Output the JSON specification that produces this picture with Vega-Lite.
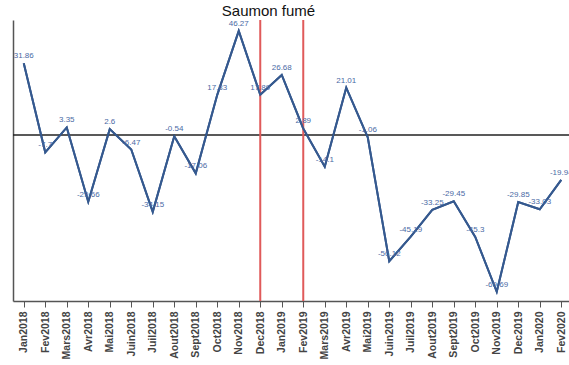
{
  "$schema": "https://vega.github.io/schema/vega-lite/v6.json",
  "width": 559,
  "height": 281,
  "autosize": {"type": "none"},
  "padding": {"left": 13, "top": 20, "right": 0, "bottom": 64},
  "background": "white",
  "title": {"text": "Saumon fumé", "font": "Liberation Sans", "fontSize": 15, "fontWeight": "normal", "color": "#111", "anchor": "middle", "dx": -24, "dy": 15, "offset": 3, "baseline": "alphabetic"},
  "config": {"view": {"stroke": null}, "font": "Liberation Sans", "locale": {"number": {"decimal": ".", "thousands": ",", "grouping": [3], "currency": ["", ""], "minus": "-"}}},
  "datasets": {
    "series": [
      {"mois": "Jan2018", "valeur": 31.86},
      {"mois": "Fev2018", "valeur": -7.7},
      {"mois": "Mars2018", "valeur": 3.35},
      {"mois": "Avr2018", "valeur": -29.66},
      {"mois": "Mai2018", "valeur": 2.6},
      {"mois": "Juin2018", "valeur": -6.47},
      {"mois": "Juil2018", "valeur": -34.15},
      {"mois": "Aout2018", "valeur": -0.54},
      {"mois": "Sept2018", "valeur": -17.06},
      {"mois": "Oct2018", "valeur": 17.83},
      {"mois": "Nov2018", "valeur": 46.27},
      {"mois": "Dec2018", "valeur": 17.89},
      {"mois": "Jan2019", "valeur": 26.68},
      {"mois": "Fev2019", "valeur": 2.89},
      {"mois": "Mars2019", "valeur": -14.1},
      {"mois": "Avr2019", "valeur": 21.01},
      {"mois": "Mai2019", "valeur": -1.06},
      {"mois": "Juin2019", "valeur": -56.12},
      {"mois": "Juil2019", "valeur": -45.19},
      {"mois": "Aout2019", "valeur": -33.25},
      {"mois": "Sept2019", "valeur": -29.45},
      {"mois": "Oct2019", "valeur": -45.3},
      {"mois": "Nov2019", "valeur": -69.69},
      {"mois": "Dec2019", "valeur": -29.85},
      {"mois": "Jan2020", "valeur": -33.03},
      {"mois": "Fev2020", "valeur": -19.94}
    ],
    "marqueurs": [
      {"mois": "Dec2018"},
      {"mois": "Fev2019"}
    ],
    "zero": [
      {"valeur": 0}
    ]
  },
  "layer": [
    {
      "data": {"name": "series"},
      "mark": {"type": "line", "color": "#35598f", "strokeWidth": 2},
      "encoding": {
        "x": {"field": "mois", "type": "nominal", "sort": null,
              "scale": {"type": "point", "padding": 0.5, "domain": ["Jan2018","Fev2018","Mars2018","Avr2018","Mai2018","Juin2018","Juil2018","Aout2018","Sept2018","Oct2018","Nov2018","Dec2018","Jan2019","Fev2019","Mars2019","Avr2019","Mai2019","Juin2019","Juil2019","Aout2019","Sept2019","Oct2019","Nov2019","Dec2019","Jan2020","Fev2020"]},
              "axis": {"title": null, "labelAngle": -90, "labelFontSize": 10.5, "labelFontWeight": "bold", "labelColor": "#444", "domainColor": "#555", "domainWidth": 1.5, "tickColor": "#555", "tickSize": 6, "labelPadding": 4}},
        "y": {"field": "valeur", "type": "quantitative", "scale": {"domain": [-73.8, 51.1], "nice": false, "zero": false},
              "axis": {"title": null, "labels": false, "ticks": false, "grid": false, "domainColor": "#555", "domainWidth": 1.5}}
      }
    },
    {
      "data": {"name": "zero"},
      "mark": {"type": "rule", "color": "#222", "strokeWidth": 1.5},
      "encoding": {
        "y": {"field": "valeur", "type": "quantitative"}
      }
    },
    {
      "data": {"name": "marqueurs"},
      "mark": {"type": "rule", "color": "#e05a5a", "strokeWidth": 2},
      "encoding": {
        "x": {"field": "mois", "type": "nominal", "sort": null}
      }
    },
    {
      "data": {"name": "series"},
      "mark": {"type": "line", "color": "#35598f", "strokeWidth": 2},
      "encoding": {
        "x": {"field": "mois", "type": "nominal", "sort": null},
        "y": {"field": "valeur", "type": "quantitative"}
      }
    },
    {
      "data": {"name": "series"},
      "mark": {"type": "text", "color": "#4a6aa5", "fontSize": 8, "dy": -7},
      "encoding": {
        "x": {"field": "mois", "type": "nominal", "sort": null},
        "y": {"field": "valeur", "type": "quantitative"},
        "text": {"field": "valeur", "type": "quantitative"}
      }
    }
  ]
}
